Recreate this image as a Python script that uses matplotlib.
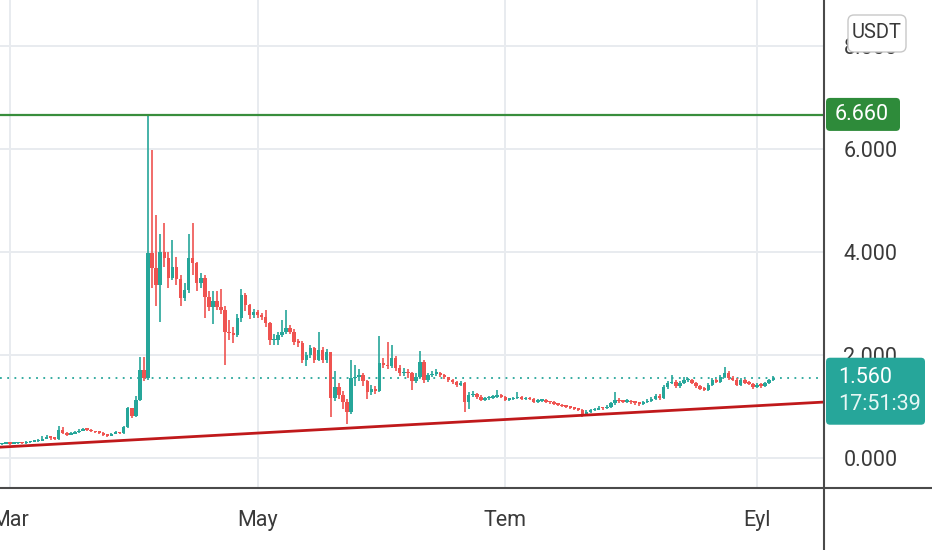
import numpy as np
import pandas as pd
import matplotlib
matplotlib.use('Agg')
import matplotlib.pyplot as plt
import matplotlib.dates as mdates
from matplotlib.patches import FancyBboxPatch
from matplotlib.transforms import IdentityTransform

# ── daily candles, 27 Feb → 5 Sep (open = previous close) ─────────────
dates = pd.date_range('2023-02-27', '2023-09-05', freq='D')
first_open = 0.27

close = [
    0.28, 0.29, 0.28, 0.29, 0.30, 0.29, 0.31, 0.32, 0.33, 0.34,
    0.38, 0.41, 0.39, 0.37, 0.54, 0.48, 0.45, 0.47, 0.50, 0.53,
    0.56, 0.55, 0.52, 0.50, 0.49, 0.45, 0.43, 0.47, 0.49, 0.48,
    0.60, 0.97, 0.82, 1.13, 1.71, 1.55, 3.98, 3.69, 3.36, 4.00,
    3.88, 3.50, 3.70, 3.48, 3.10, 3.26, 3.88, 3.78, 3.40, 3.50,
    3.13, 2.94, 3.05, 2.94, 2.88, 2.45, 2.42, 2.39, 2.71, 3.16,
    2.97, 2.78, 2.84, 2.78, 2.74, 2.62, 2.29, 2.29, 2.39, 2.45,
    2.52, 2.45, 2.26, 2.24, 1.90, 2.00, 2.13, 1.90, 2.10, 1.90,
    2.05, 1.16, 1.38, 1.22, 1.09, 0.90, 1.55, 1.58, 1.62, 1.49,
    1.29, 1.35, 1.30, 1.84, 1.81, 1.78, 1.94, 1.75, 1.65, 1.68,
    1.65, 1.49, 1.58, 1.87, 1.51, 1.61, 1.64, 1.66, 1.61, 1.57,
    1.51, 1.48, 1.42, 1.45, 1.09, 1.22, 1.25, 1.19, 1.13, 1.16,
    1.17, 1.19, 1.22, 1.19, 1.13, 1.14, 1.16, 1.19, 1.14, 1.16,
    1.14, 1.09, 1.11, 1.12, 1.09, 1.08, 1.05, 1.03, 1.01, 1.00,
    0.98, 0.96, 0.94, 0.83, 0.90, 0.93, 0.94, 0.98, 0.97, 1.00,
    1.06, 1.13, 1.10, 1.09, 1.11, 1.08, 1.07, 1.05, 1.08, 1.11,
    1.15, 1.20, 1.16, 1.38, 1.45, 1.48, 1.40, 1.46, 1.51, 1.51,
    1.46, 1.40, 1.35, 1.33, 1.42, 1.51, 1.48, 1.58, 1.66, 1.55,
    1.52, 1.42, 1.51, 1.46, 1.44, 1.38, 1.42, 1.40, 1.45, 1.51,
    1.56,
]
high = [
    0.30, 0.31, 0.30, 0.31, 0.32, 0.32, 0.34, 0.34, 0.36, 0.37,
    0.42, 0.45, 0.43, 0.40, 0.62, 0.60, 0.50, 0.50, 0.53, 0.56,
    0.58, 0.58, 0.56, 0.53, 0.52, 0.50, 0.46, 0.49, 0.52, 0.51,
    0.63, 1.00, 0.90, 1.20, 1.96, 1.96, 6.66, 5.98, 4.72, 4.35,
    4.56, 4.00, 4.23, 3.90, 3.55, 3.40, 4.35, 4.56, 3.80, 3.60,
    3.55, 3.25, 3.25, 3.25, 3.28, 2.95, 2.68, 2.55, 2.80, 3.29,
    3.20, 3.00, 2.90, 2.88, 2.82, 2.87, 2.65, 2.40, 2.45, 2.68,
    2.87, 2.58, 2.50, 2.32, 2.28, 2.05, 2.20, 2.15, 2.45, 2.15,
    2.12, 2.05, 1.70, 1.45, 1.30, 1.15, 1.90, 1.80, 1.72, 1.65,
    1.52, 1.42, 1.40, 2.36, 1.95, 2.25, 2.19, 1.98, 1.80, 1.75,
    1.72, 1.68, 1.65, 2.07, 1.90, 1.66, 1.70, 1.72, 1.68, 1.63,
    1.58, 1.54, 1.50, 1.50, 1.47, 1.28, 1.30, 1.27, 1.22, 1.19,
    1.20, 1.22, 1.32, 1.24, 1.20, 1.17, 1.19, 1.29, 1.21, 1.18,
    1.18, 1.16, 1.14, 1.15, 1.14, 1.11, 1.10, 1.07, 1.05, 1.03,
    1.02, 1.00, 0.98, 0.96, 0.93, 0.96, 0.97, 1.01, 1.00, 1.03,
    1.09, 1.29, 1.16, 1.13, 1.14, 1.13, 1.10, 1.09, 1.11, 1.14,
    1.18, 1.24, 1.24, 1.42, 1.49, 1.61, 1.51, 1.49, 1.58, 1.55,
    1.54, 1.48, 1.42, 1.38, 1.46, 1.55, 1.54, 1.62, 1.77, 1.70,
    1.60, 1.55, 1.55, 1.53, 1.49, 1.46, 1.45, 1.45, 1.48, 1.54,
    1.60,
]
low = [
    0.26, 0.27, 0.26, 0.27, 0.28, 0.28, 0.28, 0.30, 0.31, 0.32,
    0.33, 0.37, 0.36, 0.35, 0.36, 0.46, 0.42, 0.44, 0.46, 0.49,
    0.52, 0.52, 0.50, 0.48, 0.46, 0.43, 0.40, 0.42, 0.46, 0.46,
    0.47, 0.58, 0.78, 0.80, 1.10, 1.50, 1.52, 3.30, 2.95, 2.64,
    3.70, 3.30, 3.45, 3.35, 2.95, 3.05, 3.20, 3.55, 3.25, 3.30,
    2.71, 2.85, 2.60, 2.88, 2.80, 1.81, 2.30, 2.23, 2.35, 2.65,
    2.85, 2.70, 2.72, 2.72, 2.68, 2.55, 2.20, 2.20, 2.20, 2.35,
    2.40, 2.40, 2.20, 2.15, 1.85, 1.78, 1.95, 1.85, 1.88, 1.85,
    1.85, 0.80, 1.10, 1.15, 0.95, 0.67, 0.85, 1.40, 1.50, 1.40,
    1.15, 1.22, 1.25, 1.28, 1.75, 1.72, 1.75, 1.70, 1.60, 1.60,
    1.55, 1.32, 1.45, 1.55, 1.45, 1.48, 1.58, 1.60, 1.58, 1.54,
    1.48, 1.44, 1.38, 1.40, 0.90, 0.95, 1.18, 1.15, 1.10, 1.10,
    1.13, 1.15, 1.17, 1.16, 1.10, 1.10, 1.12, 1.14, 1.12, 1.12,
    1.12, 1.07, 1.07, 1.09, 1.07, 1.05, 1.03, 1.01, 0.99, 0.97,
    0.95, 0.93, 0.91, 0.80, 0.81, 0.88, 0.91, 0.93, 0.94, 0.95,
    0.98, 1.04, 1.07, 1.06, 1.07, 1.05, 1.04, 1.02, 1.04, 1.06,
    1.09, 1.13, 1.13, 1.14, 1.35, 1.43, 1.37, 1.37, 1.43, 1.47,
    1.43, 1.37, 1.32, 1.30, 1.30, 1.40, 1.45, 1.46, 1.55, 1.52,
    1.49, 1.39, 1.40, 1.43, 1.41, 1.35, 1.36, 1.37, 1.38, 1.43,
    1.49,
]

resistance = 6.66
last_price = 1.56
countdown = '17:51:39'
trend_days = ['2023-02-26', '2023-09-18']   # red support line end points
trend_vals = [0.21, 1.09]

tick_vals = [0, 2, 4, 6, 8]
month_ticks = ['2023-03-01', '2023-05-01', '2023-07-01', '2023-09-01']
month_labels = ['Mar', 'May', 'Tem', 'Eyl']

UP = '#26a69a'
DOWN = '#ef5350'
GREEN = '#388e3c'
GRID = '#e8ebef'
AXIS = '#4a4a4a'
TXT = '#3a3a3a'

plt.rcParams['font.family'] = ['Roboto', 'DejaVu Sans']

W, H = 932, 550
fig = plt.figure(figsize=(W / 100, H / 100), dpi=100)
fig.patch.set_facecolor('white')
ax = fig.add_axes([0, 62 / H, 824 / W, 488 / H])

x = mdates.date2num(dates)
close = np.array(close)
high = np.array(high)
low = np.array(low)
opn = np.concatenate([[first_open], close[:-1]])
cols = [UP if c >= o else DOWN for o, c in zip(opn, close)]

ax.vlines(x, low, high, colors=cols, linewidth=1.2, zorder=3)
body = np.maximum(np.abs(close - opn), 0.03)
ax.bar(x, body, bottom=np.minimum(opn, close), width=0.85, color=cols,
       linewidth=0, zorder=4)

# horizontal levels and trend line
ax.axhline(resistance, color=GREEN, linewidth=1.6, zorder=5)
ax.axhline(last_price, color=UP, linewidth=1.3, linestyle=(0, (1, 3)), zorder=2)
ax.plot(mdates.date2num(pd.to_datetime(trend_days)), trend_vals,
        color='#c0191b', linewidth=2.0, zorder=6)

x0 = mdates.date2num(pd.Timestamp('2023-03-01'))
ax.set_xlim(x0 - 2.46, x0 + 200.5)
ax.set_ylim(-0.58, 8.89)

ax.set_yticks(tick_vals)
ax.set_yticklabels([f'{v:.3f}' for v in tick_vals])
ax.yaxis.tick_right()
ax.set_xticks(mdates.date2num(pd.to_datetime(month_ticks)))
ax.set_xticklabels(month_labels)
ax.tick_params(axis='both', length=0, labelsize=15.5, labelcolor=TXT)
ax.tick_params(axis='y', pad=14)
ax.tick_params(axis='x', pad=16)
ax.grid(True, color=GRID, linewidth=1.4, zorder=0)
ax.set_axisbelow(True)
for s in ax.spines.values():
    s.set_visible(False)

# frame lines of the price / time scales
fig.add_artist(plt.Line2D([824 / W, 824 / W], [0, 1], transform=fig.transFigure,
                          color=AXIS, linewidth=1.5))
fig.add_artist(plt.Line2D([0, 1], [62 / H, 62 / H], transform=fig.transFigure,
                          color=AXIS, linewidth=1.5))


def box(x_left, y_bottom, w, h, fc, ec='none', r=4):
    p = FancyBboxPatch((x_left, y_bottom), w, h,
                       boxstyle=f'round,pad=0,rounding_size={r}',
                       transform=IdentityTransform(), fc=fc, ec=ec,
                       linewidth=1.0, zorder=10)
    fig.add_artist(p)


# resistance price tag
_, yr = ax.transData.transform((x0, resistance))
box(826, yr - 16, 74, 33, '#2e8b3a')
fig.text(862 / W, yr / H, f'{resistance:.3f}', color='white', fontsize=15.5,
         ha='center', va='center', zorder=11)

# last price tag with countdown
_, yl = ax.transData.transform((x0, last_price))
box(826, yl - 47, 99, 67, UP)
fig.text(838 / W, yl / H, f'{last_price:.3f}', color='white', fontsize=15.5,
         ha='left', va='center', zorder=11)
fig.text(838 / W, (yl - 27) / H, countdown, color='#e6f7f5', fontsize=15.5,
         ha='left', va='center', zorder=11)

# currency button
box(848, H - 52, 58, 37, 'white', ec='#c8c8c8', r=6)
fig.text(877 / W, (H - 33) / H, 'USDT', color=TXT, fontsize=14.5,
         ha='center', va='center', zorder=11)

fig.savefig('out.png', dpi=100, facecolor='white')
